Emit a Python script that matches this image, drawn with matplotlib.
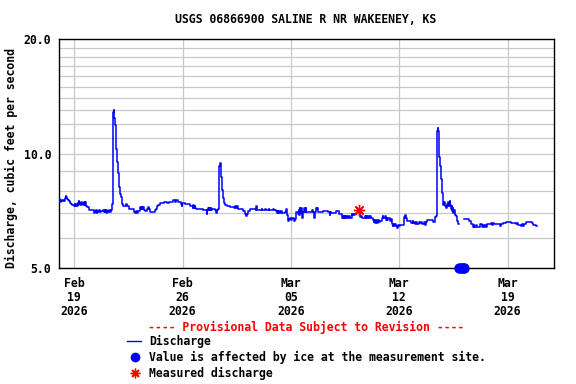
import datetime as dt
import numpy as np
import matplotlib
matplotlib.use("Agg")
import matplotlib.pyplot as plt
import matplotlib.dates as mdates
from matplotlib.lines import Line2D

# ---------------- data ----------------
title = "USGS 06866900 SALINE R NR WAKEENEY, KS"
ylabel = "Discharge, cubic feet per second"
base_date = dt.datetime(2026, 2, 19)

# time (days after Feb 19 2026 00:00) and discharge (cfs)
days = [
    -1.00, -0.96, -0.92, -0.86, -0.80, -0.74, -0.66, -0.60, -0.56, -0.50,
    -0.44, -0.38, -0.33, -0.26, -0.20, -0.12, -0.04, 0.04, 0.08, 0.14,
    0.18, 0.22, 0.26, 0.30, 0.33, 0.37, 0.41, 0.46, 0.50, 0.55,
    0.60, 0.64, 0.68, 0.72, 0.76, 0.84, 0.96, 1.30, 1.34, 1.38,
    1.42, 1.46, 1.50, 1.56, 1.62, 1.68, 1.74, 1.80, 1.86, 1.92,
    1.96, 2.00, 2.06, 2.10, 2.14, 2.20, 2.26, 2.30, 2.36, 2.42,
    2.46, 2.49, 2.52, 2.56, 2.60, 2.64, 2.68, 2.72, 2.78, 2.82,
    2.88, 2.94, 3.00, 3.06, 3.12, 3.18, 3.36, 3.40, 3.52, 3.84,
    3.92, 4.00, 4.08, 4.14, 4.24, 4.28, 4.32, 4.36, 4.40, 4.44,
    4.50, 4.60, 4.70, 4.78, 4.84, 4.92, 5.06, 5.20, 5.28, 5.36,
    5.44, 5.52, 5.80, 6.00, 6.10, 6.38, 6.50, 6.60, 6.68, 6.88,
    6.94, 6.98, 7.14, 7.46, 7.66, 7.70, 7.74, 7.78, 7.82, 7.88,
    8.00, 8.30, 8.50, 8.56, 8.60, 8.66, 8.70, 8.74, 8.78, 8.82,
    8.86, 8.92, 9.10, 9.16, 9.20, 9.30, 9.33, 9.38, 9.42, 9.46,
    9.50, 9.54, 9.60, 9.66, 9.72, 9.90, 10.04, 10.30, 10.36, 10.44,
    10.52, 10.58, 10.90, 11.05, 11.10, 11.16, 11.22, 11.33, 11.72, 11.76,
    11.80, 12.10, 12.12, 12.16, 12.34, 12.38, 12.56, 12.60, 12.84, 12.88,
    13.05, 13.10, 13.14, 13.18, 13.24, 13.30, 13.36, 13.44, 13.60, 13.68,
    13.76, 13.80, 13.86, 13.94, 14.02, 14.08, 14.18, 14.24, 14.32, 14.36,
    14.44, 14.50, 14.54, 14.58, 14.62, 14.66, 14.70, 14.74, 14.78, 14.84,
    14.90, 14.96, 15.00, 15.30, 15.36, 15.42, 15.50, 15.54, 15.60, 15.66,
    15.72, 15.78, 16.10, 16.40, 16.50, 16.56, 16.62, 16.94, 17.14, 17.28,
    17.32, 17.36, 17.40, 17.44, 17.48, 17.52, 17.58, 17.64, 17.70, 17.76,
    17.84, 17.92, 17.98, 18.04, 18.10, 18.16, 18.24, 18.30, 18.40, 18.46,
    18.52, 18.60, 18.78, 18.84, 18.88, 18.92, 18.96, 19.02, 19.10, 19.18,
    19.30, 19.36, 19.40, 19.44, 19.50, 19.56, 19.62, 19.70, 19.78, 19.86,
    19.92, 19.98, 20.06, 20.12, 20.18, 20.24, 20.30, 20.38, 20.46, 20.52,
    20.58, 20.62, 20.68, 20.74, 20.80, 20.88, 20.92, 20.98, 21.04, 21.28,
    21.32, 21.36, 21.40, 21.44, 21.48, 21.60, 21.76, 21.86, 21.90, 21.96,
    22.02, 22.10, 22.18, 22.26, 22.34, 22.42, 22.50, 22.60, 22.68, 22.76,
    22.80, 23.16, 23.20, 23.28, 23.40, 23.44, 23.48, 23.52, 23.56, 23.62,
    23.70, 23.78, 23.86, 23.92, 23.98, 24.04, 24.10, 24.14, 24.18, 24.22,
    24.26, 24.30, 24.34, 24.38, 24.42, 24.46, 24.50, 24.54, 24.60, 24.66,
    24.72, 24.78, 24.84, 25.19, 25.50, 25.62, 25.74, 25.82, 25.86, 25.94,
    26.02, 26.20, 26.34, 26.40, 26.46, 26.52, 26.60, 26.70, 26.94, 27.00,
    27.06, 27.12, 27.30, 27.46, 27.50, 27.56, 27.70, 27.90, 28.20, 28.50,
    28.56, 28.62, 28.70, 28.90, 28.96, 29.02, 29.08, 29.20, 29.56, 29.64,
    29.86, 29.92,
]
discharge = [
    7.47, 7.60, 7.47, 7.56, 7.50, 7.56, 7.50, 7.64, 7.76, 7.70,
    7.62, 7.56, 7.50, 7.44, 7.38, 7.34, 7.30, 7.36, 7.30, 7.40,
    7.30, 7.44, 7.32, 7.50, 7.36, 7.44, 7.32, 7.48, 7.36, 7.44,
    7.32, 7.46, 7.34, 7.46, 7.30, 7.24, 7.12, 7.00, 7.08, 7.02,
    7.10, 7.00, 7.08, 7.03, 7.10, 7.04, 7.08, 7.06, 7.10, 7.02,
    7.10, 7.04, 7.10, 7.00, 7.08, 7.02, 7.10, 7.03, 7.10, 7.14,
    7.40, 9.00, 12.9, 13.0, 12.4, 11.9, 10.9, 10.3, 9.5, 8.9,
    8.2, 7.86, 7.72, 7.50, 7.40, 7.30, 7.40, 7.30, 7.15, 7.05,
    7.00, 7.06, 7.00, 7.08, 7.14, 7.24, 7.14, 7.24, 7.14, 7.24,
    7.12, 7.06, 7.14, 7.24, 7.16, 7.05, 7.04, 7.12, 7.18, 7.28,
    7.34, 7.44, 7.46, 7.44, 7.48, 7.56, 7.47, 7.56, 7.46, 7.40,
    7.30, 7.42, 7.36, 7.28, 7.22, 7.32, 7.22, 7.30, 7.20, 7.16,
    7.14, 7.12, 7.10, 6.95, 7.10, 7.20, 7.10, 7.20, 7.10, 7.20,
    7.10, 7.14, 7.10, 6.98, 7.12, 7.16, 8.0, 9.3, 9.47, 9.2,
    8.7, 8.05, 7.67, 7.43, 7.34, 7.30, 7.24, 7.22, 7.30, 7.22,
    7.30, 7.14, 7.06, 6.96, 6.86, 6.96, 7.06, 7.14, 7.10, 7.28,
    7.10, 7.10, 7.18, 7.10, 7.18, 7.10, 7.18, 7.10, 7.18, 7.10,
    7.08, 7.00, 7.06, 6.98, 7.06, 6.98, 7.06, 7.00, 7.04, 7.16,
    6.90, 6.64, 6.74, 6.80, 6.70, 6.80, 6.64, 6.72, 6.88, 7.02,
    6.95, 7.12, 6.92, 7.22, 7.00, 7.22, 6.96, 6.78, 7.04, 7.22,
    7.05, 7.22, 7.05, 7.05, 7.12, 7.05, 6.80, 7.05, 7.22, 7.14,
    7.22, 7.05, 7.06, 7.05, 6.92, 7.05, 6.98, 7.08, 6.96, 6.84,
    6.78, 6.86, 6.78, 6.86, 6.78, 6.86, 6.78, 6.86, 6.80, 6.88,
    6.80, 6.94, 6.90, 6.96, 6.90, 6.96, 7.00, 7.04, 6.98, 6.84,
    6.88, 6.80, 6.86, 6.80, 6.86, 6.78, 6.86, 6.80, 6.86, 6.80,
    6.70, 6.60, 6.70, 6.58, 6.68, 6.58, 6.68, 6.60, 6.66, 6.80,
    6.88, 6.78, 6.86, 6.70, 6.76, 6.68, 6.76, 6.66, 6.72, 6.52,
    6.46, 6.52, 6.44, 6.52, 6.46, 6.40, 6.50, 6.44, 6.50, 6.56,
    6.84, 6.78, 6.90, 6.80, 6.66, 6.64, 6.58, 6.64, 6.56, 6.62,
    6.54, 6.62, 6.55, 6.62, 6.56, 6.62, 6.54, 6.62, 6.48, 6.62,
    6.70, 6.70, 6.60, 6.82, 6.86, 11.5, 11.7, 11.5, 9.8, 9.3,
    8.56, 7.9, 7.34, 7.46, 7.30, 7.20, 7.36, 7.28, 7.46, 7.30,
    7.50, 7.34, 7.16, 7.30, 7.08, 7.20, 7.00, 7.10, 6.92, 6.86,
    6.65, 6.52, np.nan, 6.74, 6.66, 6.54, 6.42, 6.50, 6.42, 6.50,
    6.42, 6.52, 6.42, 6.50, 6.42, 6.50, 6.42, 6.52, 6.58, 6.50,
    6.58, 6.52, 6.54, 6.52, 6.46, 6.54, 6.56, 6.60, 6.56, 6.58,
    6.52, 6.56, 6.50, 6.46, 6.52, 6.46, 6.54, 6.60, 6.58, 6.50,
    6.44, 6.44,
]

# ice-affected values (drawn at the bottom of the axis)
ice_days = [24.88, 25.00, 25.10, 25.21]
ice_values = [5.0, 5.0, 5.0, 5.0]

# field measurement
meas_days = [18.41]
meas_values = [7.13]

tick_days = [0, 7, 14, 21, 28]
tick_labels = ["Feb\n19\n2026", "Feb\n26\n2026", "Mar\n05\n2026",
               "Mar\n12\n2026", "Mar\n19\n2026"]
xlim_days = [-1.0, 31.0]
ytick_values = [5.0, 10.0, 20.0]
ytick_labels = ["5.0", "10.0", "20.0"]
ygrid_values = list(range(5, 21))

# ---------------- plot ----------------
BLUE = "#0000ff"
RED = "#ff0000"
FS = 8.3
FONT = dict(family="DejaVu Sans Mono", weight="bold", size=FS)

def to_dt(d):
    return base_date + dt.timedelta(days=d)

W, H = 576, 384
fig = plt.figure(figsize=(W / 100, H / 100), dpi=100)
L, R, T, B = 58.7, 554.0, 39.3, 268.3
ax = fig.add_axes([L / W, 1 - B / H, (R - L) / W, (B - T) / H])

ax.set_yscale("log")
ax.set_ylim(5.0, 20.0)
ax.set_xlim(to_dt(xlim_days[0]), to_dt(xlim_days[1]))

# grid
for v in ygrid_values:
    ax.axhline(v, color="#c8c8c8", lw=0.9, zorder=0)
for d in tick_days:
    ax.axvline(to_dt(d), color="#c8c8c8", lw=0.9, zorder=0)

times = [to_dt(d) for d in days]
ax.plot(times, discharge, color=BLUE, lw=1.1, drawstyle="steps-post", zorder=3)

ax.plot([to_dt(d) for d in ice_days], ice_values, "o", color=BLUE, ms=6.5,
        mec=BLUE, clip_on=False, zorder=5)
ax.plot([to_dt(d) for d in meas_days], meas_values, marker=(8, 2, 0),
        ls="none", color=RED, mec=RED, ms=8, mew=1.0, zorder=6)

ax.yaxis.set_major_locator(matplotlib.ticker.FixedLocator(ytick_values))
ax.yaxis.set_major_formatter(matplotlib.ticker.FixedFormatter(ytick_labels))
ax.yaxis.set_minor_locator(matplotlib.ticker.NullLocator())
ax.set_xticks([to_dt(d) for d in tick_days])
ax.set_xticklabels(tick_labels, linespacing=1.1)
ax.tick_params(axis="both", length=0)
ax.tick_params(axis="y", pad=5.5)
ax.tick_params(axis="x", pad=6.5)
for lab in ax.get_xticklabels() + ax.get_yticklabels():
    lab.set_fontfamily(FONT["family"])
    lab.set_fontweight("bold")
    lab.set_fontsize(FS)

for s in ax.spines.values():
    s.set_color("black")
    s.set_linewidth(1.0)

fig.text(306 / W, 1 - 19.5 / H, title, ha="center", va="center", **FONT)
fig.text(11.5 / W, 1 - 158 / H, ylabel, ha="center", va="center",
         rotation=90, **FONT)

# legend
fig.text(306 / W, 1 - 327 / H, "---- Provisional Data Subject to Revision ----",
         ha="center", va="center", color=RED, **FONT)
fig.add_artist(Line2D([127 / W, 141 / W], [1 - 341 / H, 1 - 341 / H],
                      transform=fig.transFigure, color=BLUE, lw=1.0))
fig.add_artist(Line2D([135 / W], [1 - 357 / H], transform=fig.transFigure,
                      marker="o", color=BLUE, ms=6, ls="none"))
fig.add_artist(Line2D([135 / W], [1 - 373 / H], transform=fig.transFigure,
                      marker=(8, 2, 0), color=RED, mec=RED, ms=7, mew=1.0,
                      ls="none"))
fig.text(149 / W, 1 - 341 / H, "Discharge", ha="left", va="center", **FONT)
fig.text(149 / W, 1 - 357 / H, "Value is affected by ice at the measurement site.",
         ha="left", va="center", **FONT)
fig.text(149 / W, 1 - 373 / H, "Measured discharge", ha="left", va="center", **FONT)

fig.savefig("out.png", dpi=100)
